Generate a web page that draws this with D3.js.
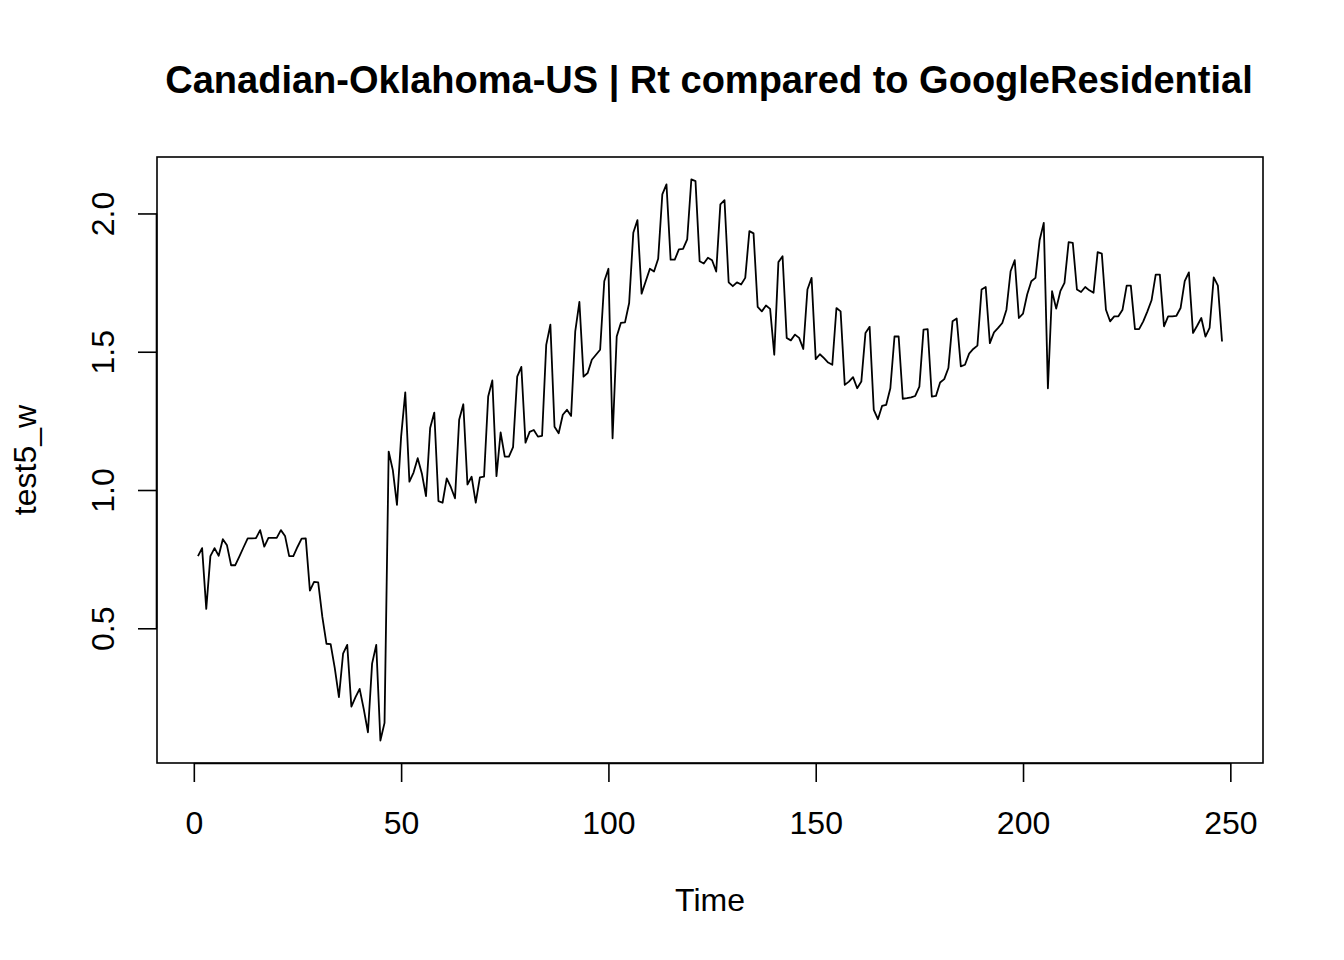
<!DOCTYPE html>
<html>
<head>
<meta charset="utf-8">
<script src="https://cdn.jsdelivr.net/npm/d3@7"></script>
<style>
  html, body { margin: 0; padding: 0; background: #fff; }
  svg text { font-family: "Liberation Sans", Arial, sans-serif; fill: #000; }
</style>
</head>
<body>
<svg id="chart" width="1344" height="960"></svg>
<script>
const titleText = "Canadian-Oklahoma-US | Rt compared to GoogleResidential";
const xLabel = "Time";
const yLabel = "test5_w";
const xTicks = [0, 50, 100, 150, 200, 250];
const yTicks = [0.5, 1.0, 1.5, 2.0];
const yTickLabels = ["0.5", "1.0", "1.5", "2.0"];

// Series values for Time = 1 .. 248
const values = [
  0.761, 0.790, 0.570, 0.761, 0.790, 0.762, 0.822, 0.800, 0.728, 0.728,
  0.760, 0.793, 0.825, 0.825, 0.826, 0.855, 0.795, 0.827, 0.827, 0.827,
  0.855, 0.834, 0.761, 0.761, 0.794, 0.824, 0.825, 0.636, 0.668, 0.666,
  0.541, 0.444, 0.443, 0.356, 0.251, 0.408, 0.440, 0.217, 0.251, 0.281,
  0.207, 0.124, 0.372, 0.440, 0.094, 0.158, 1.139, 1.072, 0.946, 1.193,
  1.353, 1.030, 1.063, 1.115, 1.060, 0.978, 1.224, 1.280, 0.960, 0.954,
  1.042, 1.010, 0.970, 1.254, 1.310, 1.020, 1.048, 0.954, 1.046, 1.048,
  1.338, 1.396, 1.050, 1.208, 1.121, 1.121, 1.155, 1.410, 1.445, 1.171,
  1.210, 1.217, 1.193, 1.196, 1.525, 1.598, 1.229, 1.205, 1.272, 1.290,
  1.268, 1.574, 1.680, 1.410, 1.423, 1.471, 1.489, 1.507, 1.755, 1.800,
  1.187, 1.555, 1.604, 1.606, 1.676, 1.930, 1.976, 1.710, 1.755, 1.800,
  1.790, 1.836, 2.069, 2.105, 1.833, 1.833, 1.870, 1.872, 1.906, 2.123,
  2.117, 1.827, 1.819, 1.840, 1.831, 1.790, 2.033, 2.048, 1.751, 1.737,
  1.751, 1.743, 1.767, 1.936, 1.928, 1.662, 1.646, 1.667, 1.655, 1.489,
  1.824, 1.845, 1.550, 1.541, 1.562, 1.550, 1.510, 1.725, 1.767, 1.473,
  1.491, 1.477, 1.461, 1.453, 1.658, 1.646, 1.380, 1.392, 1.408, 1.368,
  1.392, 1.568, 1.590, 1.290, 1.256, 1.304, 1.308, 1.368, 1.555, 1.555,
  1.330, 1.332, 1.335, 1.340, 1.374, 1.580, 1.582, 1.338, 1.340, 1.389,
  1.401, 1.441, 1.610, 1.620, 1.447, 1.453, 1.493, 1.510, 1.522, 1.725,
  1.734, 1.531, 1.570, 1.586, 1.604, 1.652, 1.791, 1.831, 1.622, 1.638,
  1.707, 1.755, 1.767, 1.903, 1.966, 1.368, 1.719, 1.656, 1.719, 1.749,
  1.896, 1.894, 1.725, 1.716, 1.734, 1.722, 1.713, 1.860, 1.855, 1.652,
  1.610, 1.628, 1.628, 1.652, 1.739, 1.739, 1.582, 1.582, 1.610, 1.646,
  1.686, 1.779, 1.779, 1.592, 1.628, 1.628, 1.630, 1.658, 1.755, 1.787,
  1.568, 1.594, 1.622, 1.555, 1.586, 1.769, 1.739, 1.537
];
const times = values.map((v, i) => i + 1);

const svg = d3.select("#chart");
const plot = { left: 157, right: 1263, top: 157, bottom: 763 };

// R-style 4% axis extension
function rExtent(arr) {
  const [a, b] = d3.extent(arr);
  const d = (b - a) * 0.04;
  return [a - d, b + d];
}

const x = d3.scaleLinear().domain(rExtent(times)).range([plot.left, plot.right]);
const y = d3.scaleLinear().domain(rExtent(values)).range([plot.bottom, plot.top]);

// Line
const line = d3.line().x((d, i) => x(times[i])).y(d => y(d));
svg.append("path")
  .datum(values)
  .attr("d", line)
  .attr("fill", "none")
  .attr("stroke", "#000")
  .attr("stroke-width", 1.8)
  .attr("stroke-linejoin", "round");

// Box
svg.append("rect")
  .attr("x", plot.left).attr("y", plot.top)
  .attr("width", plot.right - plot.left).attr("height", plot.bottom - plot.top)
  .attr("fill", "none").attr("stroke", "#000").attr("stroke-width", 1.6);

// X axis
const xAxis = d3.axisBottom(x).tickValues(xTicks).tickSize(19).tickPadding(0).tickFormat(d3.format("d"));
const gx = svg.append("g").attr("transform", `translate(0,${plot.bottom})`).call(xAxis);
gx.select(".domain")
  .attr("d", `M${x(xTicks[0])},0.5H${x(xTicks[xTicks.length - 1])}`)
  .attr("stroke-width", 1.6);
gx.selectAll(".tick line").attr("stroke-width", 1.6);
gx.selectAll(".tick text")
  .attr("font-size", 32)
  .attr("font-family", "Liberation Sans, Arial, sans-serif")
  .attr("dy", null)
  .attr("y", 71);

// Y axis
const yAxis = d3.axisLeft(y).tickValues(yTicks).tickSize(19).tickPadding(0)
  .tickFormat((d, i) => yTickLabels[i]);
const gy = svg.append("g").attr("transform", `translate(${plot.left},0)`).call(yAxis);
gy.select(".domain")
  .attr("d", `M-0.5,${y(yTicks[0])}V${y(yTicks[yTicks.length - 1])}`)
  .attr("stroke-width", 1.6);
gy.selectAll(".tick line").attr("stroke-width", 1.6);
gy.selectAll(".tick text")
  .attr("font-size", 32)
  .attr("font-family", "Liberation Sans, Arial, sans-serif")
  .attr("x", null).attr("dy", null)
  .attr("text-anchor", "middle")
  .attr("transform", "translate(-43,0) rotate(-90)");

// Title
svg.append("text")
  .attr("x", 709).attr("y", 93)
  .attr("text-anchor", "middle")
  .attr("font-size", 38).attr("font-weight", "bold")
  .text(titleText);

// Axis labels
svg.append("text")
  .attr("x", 710).attr("y", 911)
  .attr("text-anchor", "middle")
  .attr("font-size", 32)
  .text(xLabel);

svg.append("text")
  .attr("transform", "translate(36,460) rotate(-90)")
  .attr("text-anchor", "middle")
  .attr("font-size", 32)
  .text(yLabel);
</script>
</body>
</html>
